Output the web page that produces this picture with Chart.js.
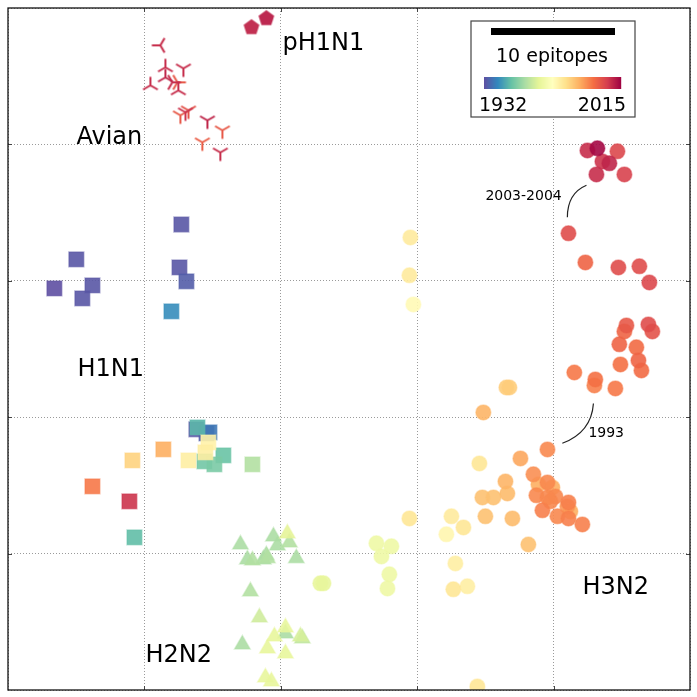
<!DOCTYPE html>
<html><head><meta charset="utf-8">
<script src="https://cdn.jsdelivr.net/npm/chart.js@4.4.1/dist/chart.umd.min.js"></script>
<style>html,body{margin:0;padding:0;background:#fff}canvas{display:block}</style>
</head><body>
<canvas id="c" width="697" height="697"></canvas>
<script>
// ---------------- data (antigenic map units, grid = 1 unit) ----------------
const yearMin = 1932, yearMax = 2015;
const gridTicks = [0, 1, 2, 3, 4, 5];

const avianX = [1.117,1.154,1.286,1.044,1.154,1.205,1.242,1.249,1.264,1.301,1.323,1.462,1.572,1.425,1.557];
const avianY = [4.726,4.565,4.557,4.433,4.491,4.455,4.455,4.396,4.213,4.235,4.249,4.176,4.103,4.015,3.941];
const avianYear = [2009,2009,2009,2009,2010,2009,2002,2009,2002,2008,2003,2010,2002,2001,2009];
const avianMarker = ['left','up','down','up','up','right','right','up','down','down','down','down','down','down','down'];

const ph1n1X = [1.785,1.894];
const ph1n1Y = [4.858,4.924];
const ph1n1Year = [2010,2011];

const h1n1X = [1.271,0.501,0.340,0.619,0.545,1.257,1.308,1.198,1.381,1.389,1.455,1.477,1.469,1.447,1.139,0.912,1.323,1.440,1.513,1.579,1.792,0.619,0.890,0.927];
const h1n1Y = [3.413,3.157,2.944,2.966,2.871,3.098,2.996,2.776,1.911,1.925,1.881,1.889,1.815,1.742,1.764,1.683,1.683,1.676,1.654,1.720,1.654,1.493,1.383,1.119];
const h1n1Year = [1933,1933,1932,1933,1933,1933,1934,1941,1933,1947,1934,1938,1977,1978,1990,1984,1978,1950,1951,1949,1958,1997,2008,1948];

const h2n2X = [1.704,1.946,2.048,1.975,2.063,1.755,1.792,1.894,1.902,1.872,2.114,1.777,1.843,2.034,1.953,2.034,2.144,2.158,1.718,1.902,2.034,1.887,1.931];
const h2n2Y = [1.067,1.126,1.148,1.060,1.082,0.957,0.950,0.987,0.965,0.957,0.965,0.723,0.532,0.459,0.393,0.415,0.393,0.378,0.334,0.305,0.268,0.092,0.063];
const h2n2Year = [1957,1957,1965,1957,1958,1957,1958,1957,1958,1957,1957,1958,1962,1966,1966,1957,1963,1960,1957,1966,1966,1966,1966];

const circX = [2.290,2.313,2.701,2.811,2.738,2.796,2.782,2.950,2.943,2.972,
  4.109,4.233,4.475,4.629,4.702,4.534,4.695,4.724,4.519,4.482,4.607,4.622,4.490,4.644,4.152,4.306,4.299,4.453,
  3.654,3.676,3.485,3.955,3.757,3.456,3.852,3.647,3.889,3.955,3.991,3.874,3.955,4.013,3.977,3.661,3.478,3.559,
  3.918,4.109,4.101,4.123,4.028,4.109,4.211,3.500,3.698,3.251,3.339,3.214,2.943,3.815,3.280,3.265,3.368,3.441,
  4.248,4.321,4.468,4.358,4.409,4.314,4.519];
const circY = [0.782,0.782,1.075,1.053,0.979,0.848,0.745,3.318,3.040,2.827,
  3.348,3.135,3.098,3.106,2.988,2.673,2.680,2.629,2.629,2.534,2.512,2.416,2.387,2.343,2.328,2.277,2.233,2.211,
  2.218,2.218,2.035,1.764,1.698,1.661,1.581,1.529,1.507,1.522,1.485,1.427,1.412,1.419,1.383,1.441,1.412,1.412,
  1.317,1.375,1.346,1.309,1.273,1.258,1.214,1.273,1.258,1.273,1.192,1.141,1.258,1.067,0.928,0.738,0.760,0.026,
  3.956,3.971,3.949,3.875,3.861,3.780,3.780];
const circYear = [1966,1966,1968,1968,1968,1968,1968,1979,1979,1975,
  2004,2000,2004,2004,2005,2002,2004,2003,2000,2000,1999,2000,1998,1999,1997,1998,1996,1997,
  1985,1985,1989,1995,1991,1980,1994,1989,1990,1995,1990,1995,1995,1995,1995,1988,1987,1987,
  1996,1996,1993,1990,1995,1996,1996,1987,1988,1979,1980,1976,1980,1987,1978,1980,1978,1980,
  2009,2014,2005,2008,2010,2009,2006];

const groupLabels = ['pH1N1','Avian','H1N1','H2N2','H3N2'];
const groupLabelX = [2.012,0.502,0.509,1.008,4.211];
const groupLabelY = [4.689,4.000,2.299,0.203,0.701];

const noteLabels = ['2003-2004','1993'];
const noteX = [3.500,4.255];
const noteY = [3.596,1.852];
// connector curves: start, control, end (data units)
const noteCurves = [
  [[4.101,3.465],[4.101,3.641],[4.241,3.700]],
  [[4.292,2.101],[4.277,1.889],[4.064,1.809]]
];
const scaleBarText = '10 epitopes';

// ---------------- colours ----------------
const SPECTRAL = [[158,1,66],[213,62,79],[244,109,67],[253,174,97],[254,224,139],[255,255,191],[230,245,152],[171,221,164],[102,194,165],[50,136,189],[94,79,162]];
function cmap(t){ t=Math.max(0,Math.min(1,t)); const s=(1-t)*10; const i=Math.min(9,Math.floor(s)); const f=s-i; const a=SPECTRAL[i], b=SPECTRAL[i+1]; return a.map((v,k)=>Math.round(v+(b[k]-v)*f)); }
function yearRGB(y){ return cmap((y-yearMin)/(yearMax-yearMin)); }
const rgba=(c,a)=>`rgba(${c[0]},${c[1]},${c[2]},${a})`;

const triCache = {};
function triCanvas(c, orient){
  const key=c.join(',')+orient; if(triCache[key]) return triCache[key];
  const cv=document.createElement('canvas'); cv.width=cv.height=22; const g=cv.getContext('2d');
  g.translate(11,11); g.rotate({down:0,up:Math.PI,left:Math.PI/2,right:-Math.PI/2}[orient]);
  g.strokeStyle=rgba(c,1); g.lineWidth=2; g.lineCap='butt';
  const L=8.5; g.beginPath();
  g.moveTo(0,0); g.lineTo(0,L);
  g.moveTo(0,0); g.lineTo(-0.866*L,-0.5*L);
  g.moveTo(0,0); g.lineTo(0.866*L,-0.5*L);
  g.stroke(); triCache[key]=cv; return cv;
}
function pentCanvas(c){
  const cv=document.createElement('canvas'); cv.width=cv.height=20; const g=cv.getContext('2d');
  g.translate(10,10); g.beginPath();
  for(let k=0;k<5;k++){ const a=-Math.PI/2+k*2*Math.PI/5; const R=8.3; k?g.lineTo(R*Math.cos(a),R*Math.sin(a)):g.moveTo(R*Math.cos(a),R*Math.sin(a)); }
  g.closePath(); g.fillStyle=rgba(c,0.95); g.fill(); return cv;
}

function build(xs, ys, years, extra){
  const idx = xs.map((_,i)=>i).sort((a,b)=>years[a]-years[b]);
  return idx.map(i=>({x:xs[i], y:ys[i], year:years[i], m: extra?extra[i]:null}));
}
function filled(pts, style, radius){
  return {
    data: pts, pointStyle: style, pointRadius: radius, pointHoverRadius: radius,
    backgroundColor: pts.map(p=>rgba(yearRGB(p.year),0.9)),
    borderColor: pts.map(p=>rgba(yearRGB(p.year),0.45)),
    pointBorderWidth: 1.5, clip: 0
  };
}

const avianPts = build(avianX, avianY, avianYear, avianMarker);
const phPts = build(ph1n1X, ph1n1Y, ph1n1Year);
const h1Pts = build(h1n1X, h1n1Y, h1n1Year);
const h2Pts = build(h2n2X, h2n2Y, h2n2Year);
const cPts = build(circX, circY, circYear);

const datasets = [
  {data: avianPts, pointStyle: avianPts.map(p=>triCanvas(yearRGB(p.year), p.m)), pointRadius: 8, clip: 0},
  {data: phPts, pointStyle: phPts.map(p=>pentCanvas(yearRGB(p.year))), pointRadius: 8, clip: 0},
  filled(h1Pts, 'rect', 10.5),
  filled(h2Pts, 'triangle', 9),
  filled(cPts, 'circle', 7.5)
];

// ---------------- decorations ----------------
const deco = {
  id: 'deco',
  afterDatasetsDraw(chart){
    const {ctx, chartArea:a, scales:{x, y}} = chart;
    ctx.save();
    // inward tick marks
    ctx.strokeStyle='#444'; ctx.lineWidth=1;
    x.ticks.forEach(t=>{ if(t.value<=0||t.value>=5) return; const px=Math.round(x.getPixelForValue(t.value))+0.5;
      ctx.beginPath(); ctx.moveTo(px,a.bottom); ctx.lineTo(px,a.bottom-4); ctx.moveTo(px,a.top); ctx.lineTo(px,a.top+4); ctx.stroke(); });
    y.ticks.forEach(t=>{ if(t.value<=0||t.value>=5) return; const py=Math.round(y.getPixelForValue(t.value))+0.5;
      ctx.beginPath(); ctx.moveTo(a.left,py); ctx.lineTo(a.left+4,py); ctx.moveTo(a.right,py); ctx.lineTo(a.right-4,py); ctx.stroke(); });
    // frame
    ctx.strokeStyle='#111'; ctx.lineWidth=1.3;
    ctx.strokeRect(a.left, a.top, a.width, a.height);
    // group labels
    ctx.fillStyle='#000'; ctx.textBaseline='alphabetic'; ctx.textAlign='left';
    ctx.font='24px "DejaVu Sans"';
    groupLabels.forEach((s,i)=>ctx.fillText(s, x.getPixelForValue(groupLabelX[i]), y.getPixelForValue(groupLabelY[i])));
    // notes
    ctx.font='14px "DejaVu Sans"';
    noteLabels.forEach((s,i)=>ctx.fillText(s, x.getPixelForValue(noteX[i]), y.getPixelForValue(noteY[i])));
    ctx.strokeStyle='#222'; ctx.lineWidth=1.2;
    noteCurves.forEach(cv=>{
      const P=cv.map(p=>[x.getPixelForValue(p[0]), y.getPixelForValue(p[1])]);
      ctx.beginPath(); ctx.moveTo(P[0][0],P[0][1]); ctx.quadraticCurveTo(P[1][0],P[1][1],P[2][0],P[2][1]); ctx.stroke();
    });
    // legend box
    const bx=471, by=21, bw=164, bh=96;
    ctx.fillStyle='#fff'; ctx.fillRect(bx,by,bw,bh);
    ctx.strokeStyle='#444'; ctx.lineWidth=1.2; ctx.strokeRect(bx,by,bw,bh);
    ctx.fillStyle='#000'; ctx.fillRect(491,28,124,7);
    ctx.font='19px "DejaVu Sans"'; ctx.textAlign='center';
    ctx.fillText(scaleBarText, 552, 62);
    const cx0=484, cx1=621;
    for(let px=cx0; px<cx1; px++){
      ctx.fillStyle=rgba(cmap((px-cx0+0.5)/(cx1-cx0)),1); ctx.fillRect(px,77,1.2,12);
    }
    ctx.fillStyle='#000';
    ctx.textAlign='left'; ctx.fillText(String(yearMin), 479, 111);
    ctx.textAlign='right'; ctx.fillText(String(yearMax), 626, 111);
    ctx.restore();
  }
};

const axisOpts = {
  type:'linear', min:0, max:5,
  ticks:{display:false, stepSize:1},
  afterBuildTicks: s => { s.ticks = gridTicks.map(v=>({value:v})); },
  grid:{color:'#9a9a9a', lineWidth:1, drawTicks:false},
  border:{display:false, dash:[1,2]}
};

new Chart(document.getElementById('c'), {
  type:'scatter',
  data:{datasets},
  options:{
    responsive:false, animation:false, devicePixelRatio:1,
    layout:{autoPadding:false, padding:{left:8, top:8, right:7, bottom:7}},
    plugins:{legend:{display:false}, tooltip:{enabled:false}},
    scales:{x:axisOpts, y:axisOpts},
    events:[]
  },
  plugins:[deco]
});
</script>
</body></html>
